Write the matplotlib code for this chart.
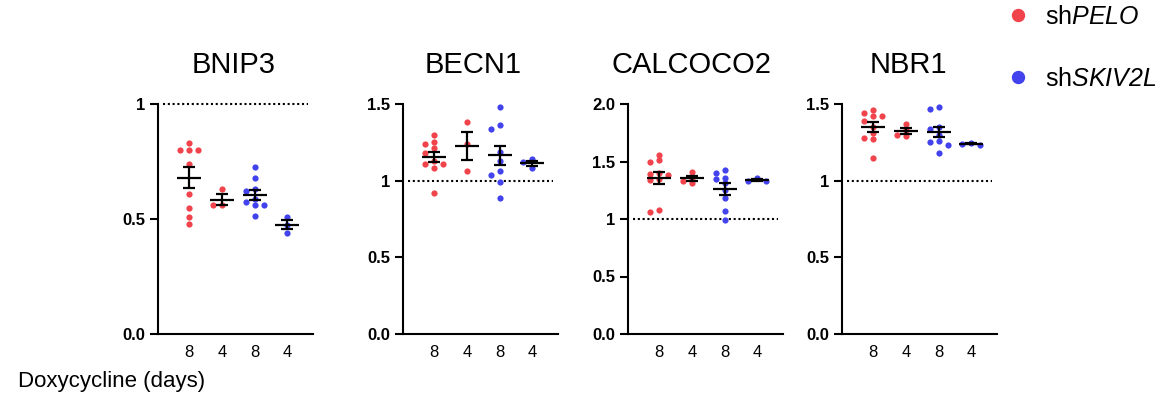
import numpy as np
import matplotlib
matplotlib.use("Agg")
import matplotlib.pyplot as plt
from matplotlib.lines import Line2D

plt.rcParams['font.family'] = ['Liberation Sans', 'DejaVu Sans']
plt.rcParams['mathtext.fontset'] = 'custom'
# only the gene names use mathtext, and they are fully italic (digits too)
plt.rcParams['mathtext.rm'] = 'Liberation Sans:italic'
plt.rcParams['mathtext.it'] = 'Liberation Sans:italic'

genes = ["BNIP3", "BECN1", "CALCOCO2", "NBR1"]
day_labels = ["8", "4", "8", "4"]
group_names = ["sh$\\mathit{PELO}$", "sh$\\mathit{SKIV2L}$"]

# values, per gene: shPELO 8d, shPELO 4d, shSKIV2L 8d, shSKIV2L 4d
bnip3_pelo_8 = [0.83, 0.80, 0.80, 0.80, 0.74, 0.61, 0.55, 0.51, 0.48]
bnip3_pelo_4 = [0.63, 0.56, 0.56]
bnip3_skiv_8 = [0.725, 0.677, 0.632, 0.62, 0.588, 0.574, 0.561, 0.561, 0.512]
bnip3_skiv_4 = [0.51, 0.475, 0.44]

becn1_pelo_8 = [1.30, 1.25, 1.24, 1.21, 1.18, 1.13, 1.11, 1.11, 1.08, 0.92]
becn1_pelo_4 = [1.38, 1.24, 1.06]
becn1_skiv_8 = [1.48, 1.36, 1.34, 1.19, 1.13, 1.06, 1.04, 0.99, 0.89]
becn1_skiv_4 = [1.14, 1.12, 1.08]

calcoco2_pelo_8 = [1.56, 1.51, 1.50, 1.40, 1.39, 1.38, 1.35, 1.34, 1.08, 1.06]
calcoco2_pelo_4 = [1.41, 1.36, 1.33, 1.31]
calcoco2_skiv_8 = [1.43, 1.40, 1.36, 1.35, 1.31, 1.25, 1.18, 1.07, 0.99]
calcoco2_skiv_4 = [1.36, 1.33, 1.33]

nbr1_pelo_8 = [1.46, 1.44, 1.42, 1.42, 1.39, 1.35, 1.31, 1.28, 1.27, 1.15]
nbr1_pelo_4 = [1.37, 1.33, 1.30, 1.29]
nbr1_skiv_8 = [1.48, 1.47, 1.35, 1.34, 1.30, 1.26, 1.25, 1.23, 1.18]
nbr1_skiv_4 = [1.245, 1.24, 1.235]

y_tops = [1, 1.5, 2, 1.5]
y_ticks = [[0, 0.5, 1], [0, 0.5, 1, 1.5], [0, 0.5, 1, 1.5, 2], [0, 0.5, 1, 1.5]]
y_ticklabels = [["0.0", "0.5", "1"], ["0.0", "0.5", "1", "1.5"],
                ["0.0", "0.5", "1", "1.5", "2.0"], ["0.0", "0.5", "1", "1.5"]]

data = [
    [bnip3_pelo_8, bnip3_pelo_4, bnip3_skiv_8, bnip3_skiv_4],
    [becn1_pelo_8, becn1_pelo_4, becn1_skiv_8, becn1_skiv_4],
    [calcoco2_pelo_8, calcoco2_pelo_4, calcoco2_skiv_8, calcoco2_skiv_4],
    [nbr1_pelo_8, nbr1_pelo_4, nbr1_skiv_8, nbr1_skiv_4],
]

red = "#F0434B"
blue = "#4343EE"
group_colors = [red, red, blue, blue]

W, H = 1162, 398
ax_left_px = [158, 403, 628, 842]
ax_w_px, ax_h_px = 155, 230
ax_bottom_px = 334
title_x = [0.49, 0.45, 0.41, 0.43]
xlim = (-0.95, 3.78)


def swarm(vals, px_per_x, px_per_y, step=9.0, min_d=5.5):
    # simple beeswarm: spread points sideways when they would overlap
    order = np.argsort(vals)[::-1]
    placed = []
    offs = np.zeros(len(vals))
    for i in order:
        y = vals[i] * px_per_y
        for k in [0, -1, 1, -2, 2, -3, 3]:
            x = k * step
            if all(np.hypot(x - px, y - py) >= min_d for px, py in placed):
                break
        placed.append((x, y))
        offs[i] = x / px_per_x
    return offs


fig = plt.figure(figsize=(W / 100, H / 100), dpi=100)

for gi, gene in enumerate(genes):
    ax = fig.add_axes([ax_left_px[gi] / W, (H - ax_bottom_px) / H, ax_w_px / W, ax_h_px / H])
    ax.set_xlim(*xlim)
    ax.set_ylim(0, y_tops[gi])
    px_per_x = ax_w_px / (xlim[1] - xlim[0])
    px_per_y = ax_h_px / y_tops[gi]

    ax.axhline(1, xmin=0.03, xmax=0.97, color="k", lw=1.5, ls=(0, (1, 1.3)), clip_on=False, zorder=1)

    for j, vals in enumerate(data[gi]):
        vals = np.array(vals)
        offs = swarm(vals, px_per_x, px_per_y)
        ax.scatter(j + offs, vals, s=20, color=group_colors[j], linewidths=0, zorder=2, clip_on=False)
        m = vals.mean()
        sem = vals.std(ddof=1) / np.sqrt(len(vals))
        ax.errorbar(j, m, yerr=sem, fmt="_", color="k", ms=17, mew=1.6,
                    elinewidth=1.6, capsize=4.3, capthick=1.6, zorder=3)

    ax.set_xticks(range(4))
    ax.set_xticklabels(day_labels, fontsize=12)
    ax.tick_params(axis="x", length=0, pad=8)
    ax.set_yticks(y_ticks[gi])
    ax.set_yticklabels(y_ticklabels[gi], fontsize=12, fontweight="bold")
    ax.tick_params(axis="y", direction="out", length=6, width=1.5, pad=3)
    for s in ["top", "right"]:
        ax.spines[s].set_visible(False)
    for s in ["left", "bottom"]:
        ax.spines[s].set_linewidth(1.5)
    ax.set_title(gene, fontsize=21, x=title_x[gi], pad=22)

fig.text(18 / W, 11 / H, "Doxycycline (days)", fontsize=16, va="baseline")

handles = [Line2D([], [], ls="none", marker="o", ms=8.6, color=c) for c in (red, blue)]
fig.legend(handles, group_names, loc="upper left", bbox_to_anchor=(1008 / W, 1 - 5 / H),
           frameon=False, fontsize=18, handlelength=0.8, handletextpad=0.68,
           labelspacing=1.5, borderpad=0, borderaxespad=0)

fig.savefig("out.png", dpi=100)
